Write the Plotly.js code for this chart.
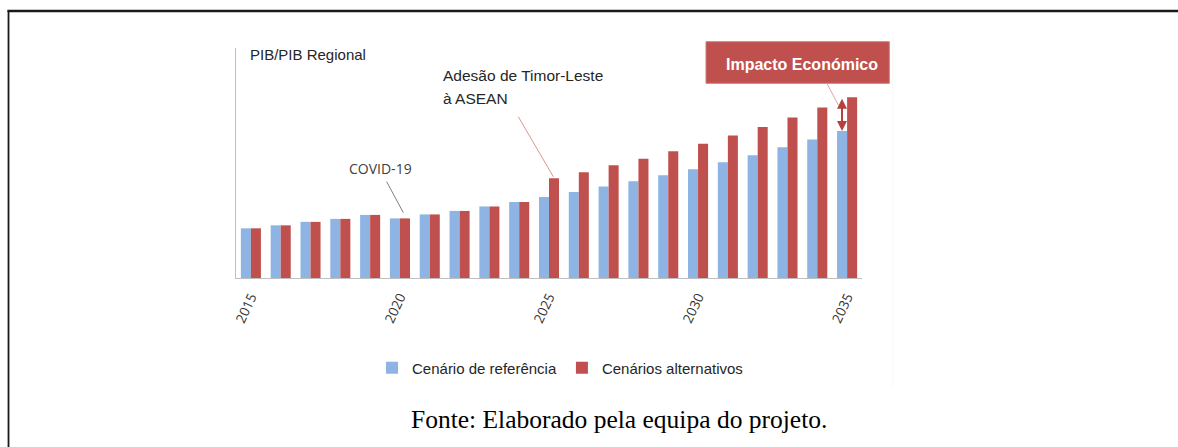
<!DOCTYPE html>
<html>
<head>
<meta charset="utf-8">
<script src="https://cdn.plot.ly/plotly-3.0.1.min.js"></script>
<style>html,body{margin:0;padding:0;background:#fff;}#chart{width:1178px;height:447px;}</style>
</head>
<body>
<div id="chart"></div>
<script>
// Years (categories)
const years = [2015,2016,2017,2018,2019,2020,2021,2022,2023,2024,2025,2026,2027,2028,2029,2030,2031,2032,2033,2034,2035];
// Index values (2015 reference = 100)
const reference = [100,106,113,119,127,120,128,135,144,153,163,173,184,195,207,219,233,247,263,279,296];
const alternative = [100,106,113,119,127,120,128,135,144,153,201,213,227,240,255,270,287,304,323,343,364];
const tickYears = [2015,2020,2025,2030,2035];
const tickText = ['2015','2020','2025','2030','2035'];
const seriesNames = ['Cenário de referência','Cenários alternativos'];

const BLUE = '#8db4e2', RED = '#c0504d';

const traces = [
  {type:'bar', x:years, y:reference, name:seriesNames[0], marker:{color:BLUE}, hoverinfo:'skip'},
  {type:'bar', x:years, y:alternative, name:seriesNames[1], marker:{color:RED}, hoverinfo:'skip'}
];

const lastRef = reference[reference.length-1];
const lastAlt = alternative[alternative.length-1];
const lastYear = years[years.length-1];

const SANS = '"Liberation Sans", Arial, sans-serif';

const layout = {
  width:1178, height:447,
  margin:{l:236, r:316, t:48, b:169, pad:0},
  paper_bgcolor:'#fff', plot_bgcolor:'#fff',
  barmode:'group', bargap:0.327, bargroupgap:0,
  font:{family:SANS, color:'#262626'},
  xaxis:{
    range:[2014.5, 2035.5], tickvals:tickYears, ticktext:tickText,
    tickangle:-65, ticks:'', showgrid:false, zeroline:false,
    showline:true, linecolor:'#bfbfbf', linewidth:1,
    tickfont:{family:'"Open Sans", sans-serif', size:13.5, color:'#333333'},
    ticklabelstandoff:5
  },
  yaxis:{
    range:[0, 463], showticklabels:false, ticks:'', showgrid:false, zeroline:false,
    showline:true, linecolor:'#bfbfbf', linewidth:1
  },
  showlegend:true,
  legend:{
    orientation:'h', x:0.5176, xanchor:'center', y:-0.391, yanchor:'middle',
    font:{family:SANS, size:15, color:'#262626'},
    itemwidth:30, traceorder:'normal', bgcolor:'rgba(0,0,0,0)'
  },
  shapes:[
    // page frame
    {type:'line', xref:'paper', yref:'paper', x0:-0.365, x1:1.51, y0:1.1609, y1:1.1609, line:{color:'#1a1a1a', width:2.5}},
    {type:'line', xref:'paper', yref:'paper', x0:-0.3634, x1:-0.3634, y0:1.1652, y1:-0.74, line:{color:'#1a1a1a', width:1.8}},
    // faint image edge
    {type:'line', xref:'paper', yref:'paper', x0:1.0495, x1:1.0495, y0:1.048, y1:-0.47, line:{color:'#f6f6f6', width:1}},
    // COVID leader
    {type:'line', xref:'paper', yref:'paper', x0:0.2407, y0:0.4187, x1:0.2673, y1:0.2839, line:{color:'#7f7f7f', width:1}},
    // Timor-Leste leader
    {type:'line', xref:'paper', yref:'paper', x0:0.4510, y0:0.7013, x1:0.5069, y1:0.4404, line:{color:'#d99694', width:1}},
    // Impacto box
    {type:'rect', xref:'paper', yref:'paper', x0:0.7508, x1:1.0436, y0:0.8465, y1:1.0274, fillcolor:RED, line:{color:'#d07a78', width:1}},
    // Impacto leader
    {type:'line', xref:'paper', yref:'paper', x0:0.9436, y0:0.8478, x1:0.9621, y1:0.7522, line:{color:'#e0a8a6', width:1}}
  ],
  annotations:[
    {xref:'paper', yref:'paper', x:0.0192, y:0.9717, xanchor:'left', yanchor:'middle', showarrow:false,
     text:'PIB/PIB Regional', font:{family:SANS, size:15, color:'#262626'}},
    {xref:'paper', yref:'paper', x:0.3275, y:0.8804, xanchor:'left', yanchor:'middle', showarrow:false,
     text:'Adesão de Timor-Leste', font:{family:SANS, size:15.5, color:'#262626'}},
    {xref:'paper', yref:'paper', x:0.3275, y:0.7804, xanchor:'left', yanchor:'middle', showarrow:false,
     text:'à ASEAN', font:{family:SANS, size:15.5, color:'#262626'}},
    {xref:'paper', yref:'paper', x:0.2316, y:0.4761, xanchor:'center', yanchor:'middle', showarrow:false,
     text:'COVID-19', font:{family:'"Open Sans", sans-serif', size:14, color:'#404040'}},
    {xref:'paper', yref:'paper', x:0.9040, y:0.9283, xanchor:'center', yanchor:'middle', showarrow:false,
     text:'<b>Impacto Económico</b>', font:{family:SANS, size:16, color:'#ffffff'}},
    // double-headed impact arrow between the two 2035 values
    {xref:'x', yref:'y', axref:'x', ayref:'y', x:lastYear-0.17, y:lastRef, ax:lastYear-0.17, ay:lastAlt,
     text:'', showarrow:true, arrowhead:2, arrowside:'end+start', arrowsize:1, arrowwidth:2, arrowcolor:'#b5403d', standoff:0, startstandoff:0},
    // source note
    {xref:'paper', yref:'paper', x:0.6126, y:-0.615, xanchor:'center', yanchor:'middle', showarrow:false,
     text:'Fonte: Elaborado pela equipa do projeto.', font:{family:'"Liberation Serif", "Times New Roman", serif', size:25.5, color:'#000'}}
  ]
};

Plotly.newPlot('chart', traces, layout, {staticPlot:true, displayModeBar:false});
</script>
</body>
</html>
